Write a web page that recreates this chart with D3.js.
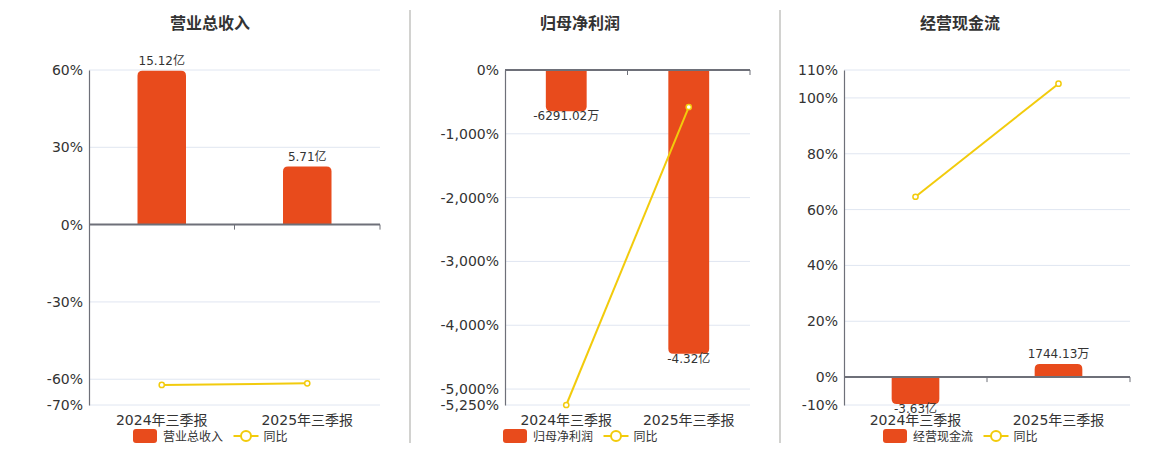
<!DOCTYPE html>
<html>
<head>
<meta charset="utf-8">
<script src="https://cdn.jsdelivr.net/npm/d3@7/dist/d3.min.js"></script>
<style>
  body { margin: 0; background: #fff; }
  text { font-family: "DejaVu Sans", "Noto Sans CJK SC", sans-serif; fill: #333; }
</style>
</head>
<body>
<script>
// categories and series (bar values in 亿元, yoy in %)
var categories = ['2024年三季报', '2025年三季报'];
var titles = ['营业总收入', '归母净利润', '经营现金流'];

var revenue = [15.12, 5.71];
var revenueYoY = [-62.2, -61.6];
var netProfit = [-0.629102, -4.32];
var netProfitYoY = [-5250, -580];
var cashFlow = [-3.63, 0.174413];
var cashFlowYoY = [64.6, 105.1];

// y axis ticks (%) and hidden bar axis extents (亿)
var revenueTicks = [60, 30, 0, -30, -60, -70];
var netProfitTicks = [0, -1000, -2000, -3000, -4000, -5000, -5250];
var cashFlowTicks = [110, 100, 80, 60, 40, 20, 0, -10];
var revenueBarDomain = [-17.73, 15.2];
var netProfitBarDomain = [-5.1, 0];
var cashFlowBarDomain = [-3.78, 41.6];

var barColor = '#e84b1c', lineColor = '#f2cb0c';
var W = 1160, H = 450, plotTop = 70, plotBottom = 405;
var barMinHeight = 13;

var panels = [
  { title: titles[0], bars: revenue, yoy: revenueYoY, ticks: revenueTicks, barDomain: revenueBarDomain, x0: 89, x1: 380, cx: 210 },
  { title: titles[1], bars: netProfit, yoy: netProfitYoY, ticks: netProfitTicks, barDomain: netProfitBarDomain, x0: 505, x1: 750, cx: 580 },
  { title: titles[2], bars: cashFlow, yoy: cashFlowYoY, ticks: cashFlowTicks, barDomain: cashFlowBarDomain, x0: 844, x1: 1130, cx: 960 }
];

var svg = d3.select('body').append('svg')
  .attr('width', W)
  .attr('height', H);

// dividers between panels
[410, 780].forEach(function(x) {
  svg.append('line')
    .attr('x1', x).attr('x2', x).attr('y1', 10).attr('y2', 443)
    .attr('stroke', '#b4b4b0').attr('stroke-width', 1.2);
});

function fmtAmount(v) {
  if (Math.abs(v) >= 1) return v.toFixed(2) + '亿';
  return (v * 10000).toFixed(2) + '万';
}

// plain hyphen for negatives, like the original
var fmtPct = d3.formatLocale({ decimal: '.', thousands: ',', grouping: [3], currency: ['', ''], minus: '-' }).format(',');

// bar with rounded outer end
function barPath(x, w, y0, y1, r) {
  var up = y1 < y0;
  var yt = Math.min(y0, y1), yb = Math.max(y0, y1);
  r = Math.min(r, (yb - yt) / 2, w / 2);
  if (up) {
    return 'M' + x + ',' + yb + 'V' + (yt + r) +
      'Q' + x + ',' + yt + ' ' + (x + r) + ',' + yt +
      'H' + (x + w - r) + 'Q' + (x + w) + ',' + yt + ' ' + (x + w) + ',' + (yt + r) +
      'V' + yb + 'Z';
  }
  return 'M' + x + ',' + yt + 'V' + (yb - r) +
    'Q' + x + ',' + yb + ' ' + (x + r) + ',' + yb +
    'H' + (x + w - r) + 'Q' + (x + w) + ',' + yb + ' ' + (x + w) + ',' + (yb - r) +
    'V' + yt + 'Z';
}

panels.forEach(function(p) {
  var g = svg.append('g');

  var x = d3.scaleBand().domain(categories).range([p.x0, p.x1]);
  var y = d3.scaleLinear().domain(d3.extent(p.ticks)).range([plotBottom, plotTop]);
  var yb = d3.scaleLinear().domain(p.barDomain).range([plotBottom, plotTop]);

  function barEnd(d) {
    var y0 = yb(0), y1 = yb(d);
    if (Math.abs(y1 - y0) < barMinHeight) y1 = y0 + (d >= 0 ? -barMinHeight : barMinHeight);
    return y1;
  }

  // title
  g.append('text')
    .attr('x', p.cx).attr('y', 29)
    .attr('text-anchor', 'middle')
    .style('font-size', '16px').style('font-weight', 'bold')
    .text(p.title);

  // grid
  g.selectAll('.grid').data(p.ticks).enter().append('line')
    .attr('x1', p.x0).attr('x2', p.x1)
    .attr('y1', function(d) { return y(d); }).attr('y2', function(d) { return y(d); })
    .attr('stroke', '#e0e6f1').attr('stroke-width', 1);

  // y axis
  var yAxis = d3.axisLeft(y).tickValues(p.ticks).tickSize(0).tickPadding(6)
    .tickFormat(function(d) { return fmtPct(d) + '%'; });
  var ya = g.append('g').attr('transform', 'translate(' + p.x0 + ',0)').call(yAxis);
  ya.select('.domain').attr('stroke', '#6e7079').attr('stroke-width', 1.2);
  ya.selectAll('text').style('font-size', '14px').attr('fill', '#333')
    .style('font-family', '"DejaVu Sans", sans-serif');

  // bars
  var bw = x.bandwidth() / 3;
  g.selectAll('.bar').data(p.bars).enter().append('path')
    .attr('fill', barColor)
    .attr('d', function(d, i) {
      var bx = x(categories[i]) + (x.bandwidth() - bw) / 2;
      return barPath(bx, bw, yb(0), barEnd(d), 5);
    });

  // bar labels
  g.selectAll('.blabel').data(p.bars).enter().append('text')
    .attr('x', function(d, i) { return x(categories[i]) + x.bandwidth() / 2; })
    .attr('y', function(d) { return d >= 0 ? barEnd(d) - 6 : barEnd(d) + 9; })
    .attr('text-anchor', 'middle')
    .style('font-size', '12px')
    .text(function(d) { return fmtAmount(d); });

  // x axis on zero line
  var xa = g.append('g').attr('transform', 'translate(0,' + y(0) + ')');
  xa.append('path').attr('d', 'M' + p.x0 + ',0H' + p.x1)
    .attr('stroke', '#6e7079').attr('stroke-width', 2);
  [categories[1], null].forEach(function(c) {
    var tx = c ? x(c) : p.x1;
    xa.append('line').attr('x1', tx).attr('x2', tx).attr('y1', 0).attr('y2', 5)
      .attr('stroke', '#6e7079').attr('stroke-width', 1);
  });

  // category labels at bottom
  g.selectAll('.clabel').data(categories).enter().append('text')
    .attr('x', function(d) { return x(d) + x.bandwidth() / 2; })
    .attr('y', 425)
    .attr('text-anchor', 'middle')
    .style('font-size', '14px')
    .text(function(d) { return d; });

  // yoy line
  var line = d3.line()
    .x(function(d, i) { return x(categories[i]) + x.bandwidth() / 2; })
    .y(function(d) { return y(d); });
  g.append('path').datum(p.yoy)
    .attr('d', line).attr('fill', 'none')
    .attr('stroke', lineColor).attr('stroke-width', 2);
  g.selectAll('.pt').data(p.yoy).enter().append('circle')
    .attr('cx', function(d, i) { return x(categories[i]) + x.bandwidth() / 2; })
    .attr('cy', function(d) { return y(d); })
    .attr('r', 2.6).attr('fill', '#fff')
    .attr('stroke', lineColor).attr('stroke-width', 1.5);

  // legend
  var lx = p.cx - 77;
  var lg = g.append('g').attr('transform', 'translate(' + lx + ',436)');
  lg.append('rect').attr('x', 0).attr('y', -7).attr('width', 24).attr('height', 14)
    .attr('rx', 3).attr('fill', barColor);
  lg.append('text').attr('x', 30).attr('y', 4.5).style('font-size', '12px').text(p.title);
  var l2 = 100.5;
  lg.append('line').attr('x1', l2).attr('x2', l2 + 25).attr('y1', 0).attr('y2', 0)
    .attr('stroke', lineColor).attr('stroke-width', 2);
  lg.append('circle').attr('cx', l2 + 12.5).attr('cy', 0).attr('r', 5)
    .attr('fill', '#fff').attr('stroke', lineColor).attr('stroke-width', 2);
  lg.append('text').attr('x', l2 + 30).attr('y', 4.5).style('font-size', '12px').text('同比');
});
</script>
</body>
</html>
